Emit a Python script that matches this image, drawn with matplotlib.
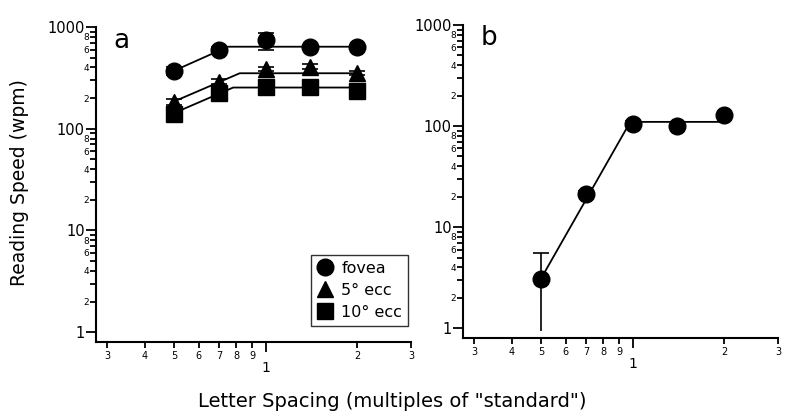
import matplotlib
matplotlib.use("Agg")
import matplotlib.pyplot as plt
from matplotlib.ticker import FixedLocator, FixedFormatter
from matplotlib.lines import Line2D

# ---------------- data ----------------
spacing = [0.5, 0.7, 1.0, 1.4, 2.0]

fovea_speed = [373, 595, 740, 632, 632]
fovea_err = [35, 45, 140, 30, 30]
ecc5_speed = [185, 291, 385, 408, 356]
ecc5_err = [12, 14, 16, 24, 16]
ecc10_speed = [140, 224, 260, 260, 236]
ecc10_err = [8, 10, 10, 10, 10]

fit_fovea_x = [0.5, 0.75, 2.0]
fit_fovea_y = [373, 640, 640]
fit_ecc5_x = [0.5, 0.82, 2.0]
fit_ecc5_y = [186, 351, 351]
fit_ecc10_x = [0.5, 0.78, 2.0]
fit_ecc10_y = [143, 254, 254]

b_speed = [3.1, 21.5, 106, 100, 128]
b_err_low = [2.17, 1.5, 5, 5, 5]
b_err_high = [2.4, 1.5, 5, 5, 5]
fit_b_x = [0.5, 0.98, 2.0]
fit_b_y = [3.15, 110, 110]

legend_labels = ["fovea", "5° ecc", "10° ecc"]

x_major = [1]
x_minor = [0.3, 0.4, 0.5, 0.6, 0.7, 0.8, 0.9, 2, 3]
x_minor_labels = ["3", "4", "5", "6", "7", "8", "9", "2", "3"]
y_major = [1, 10, 100, 1000]
y_major_labels = ["1", "10", "100", "1000"]
y_minor = [m * d for d in (1, 10, 100) for m in range(2, 10)]
y_minor_labels = [str(m) if m % 2 == 0 else "" for d in (1, 10, 100) for m in range(2, 10)]

# ---------------- figure ----------------
plt.rcParams['font.family'] = ['DejaVu Sans']
fig = plt.figure(figsize=(8, 4.19), dpi=100)

H = 419.0
def add_axes(x0, x1, ytop, ybot):
    return fig.add_axes([x0 / 800, (H - ybot) / H, (x1 - x0) / 800, (ybot - ytop) / H])

axA = add_axes(96, 411, 27, 342)
axB = add_axes(463, 778, 25, 338)

XLIM = (0.276, 3.0)
YLIM = (0.8, 1000)

def style(ax):
    ax.set_xscale('log')
    ax.set_yscale('log')
    ax.set_xlim(*XLIM)
    ax.set_ylim(*YLIM)
    for s in ('top', 'right'):
        ax.spines[s].set_visible(False)
    for s in ('left', 'bottom'):
        ax.spines[s].set_linewidth(1.5)
    ax.xaxis.set_major_locator(FixedLocator(x_major))
    ax.xaxis.set_major_formatter(FixedFormatter(["1"]))
    ax.xaxis.set_minor_locator(FixedLocator(x_minor))
    ax.xaxis.set_minor_formatter(FixedFormatter(x_minor_labels))
    ax.yaxis.set_major_locator(FixedLocator(y_major))
    ax.yaxis.set_major_formatter(FixedFormatter(y_major_labels))
    ax.yaxis.set_minor_locator(FixedLocator(y_minor))
    ax.yaxis.set_minor_formatter(FixedFormatter(y_minor_labels))
    ax.tick_params(axis='x', which='major', direction='out', length=7, width=1.3, labelsize=10, pad=7)
    ax.tick_params(axis='x', which='minor', direction='out', length=4, width=1.3, labelsize=7, pad=2.5)
    ax.tick_params(axis='y', which='major', direction='out', length=7, width=1.3, labelsize=10.5, pad=1)
    ax.tick_params(axis='y', which='minor', direction='out', length=4, width=1.3, labelsize=6.5, pad=1)

style(axA)
style(axB)

ms = 12
eb_kw = dict(color='black', ecolor='black', elinewidth=1.2, capthick=1.2, linestyle='none')

axA.plot(fit_fovea_x, fit_fovea_y, color='black', lw=1.3)
axA.plot(fit_ecc5_x, fit_ecc5_y, color='black', lw=1.3)
axA.plot(fit_ecc10_x, fit_ecc10_y, color='black', lw=1.3)
axA.errorbar(spacing, fovea_speed, yerr=fovea_err, marker='o', markersize=ms, capsize=6, **eb_kw)
axA.errorbar(spacing, ecc5_speed, yerr=ecc5_err, marker='^', markersize=ms, capsize=6, **eb_kw)
axA.errorbar(spacing, ecc10_speed, yerr=ecc10_err, marker='s', markersize=ms - 0.5, capsize=6, **eb_kw)

handles = [Line2D([], [], color='black', marker=m, linestyle='none', markersize=s)
           for m, s in zip(['o', '^', 's'], [12, 12, 11])]
leg = axA.legend(handles, legend_labels, loc='upper left',
                 bbox_to_anchor=((311 - 96) / 315, (342 - 255) / 315),
                 frameon=True, fancybox=False, edgecolor='black', fontsize=11.5,
                 handlelength=1.0, handletextpad=0.55, borderpad=0.35, labelspacing=0.45,
                 borderaxespad=0)
leg.get_frame().set_linewidth(1.0)

axB.plot(fit_b_x, fit_b_y, color='black', lw=1.3)
zeros = [0] * len(b_speed)
# lower whiskers without caps, upper whiskers with caps
axB.errorbar(spacing, b_speed, yerr=[b_err_low, zeros], capsize=0, marker='none', **eb_kw)
axB.errorbar(spacing, b_speed, yerr=[zeros, b_err_high], marker='o', markersize=ms, capsize=6, **eb_kw)

axA.text(0.055, 0.955, "a", transform=axA.transAxes, fontsize=19, va='center', ha='left')
axB.text(0.055, 0.96, "b", transform=axB.transAxes, fontsize=19, va='center', ha='left')

fig.text(20 / 800, 1 - 183 / H, "Reading Speed (wpm)", rotation=90, fontsize=13.5,
         va='center', ha='center')
fig.text(392 / 800, 1 - 401 / H, 'Letter Spacing (multiples of "standard")', fontsize=14,
         va='center', ha='center')

fig.savefig("out.png", dpi=100)
